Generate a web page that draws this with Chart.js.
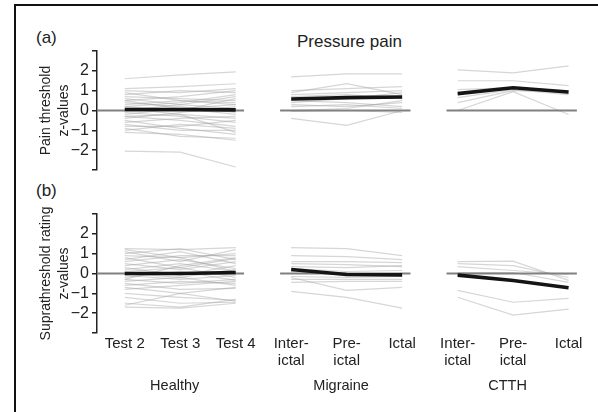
<!DOCTYPE html>
<html>
<head>
<meta charset="utf-8">
<script src="https://cdn.jsdelivr.net/npm/chart.js@4/dist/chart.umd.min.js"></script>
<style>
    body { margin: 0; background: #fff; }
    #wrap { position: relative; width: 598px; height: 412px; overflow: hidden; font-family: "Liberation Sans", Arial, sans-serif; color: #222; }
    #frame { position: absolute; left: 14px; top: 4px; width: 600px; height: 420px; border: 2px solid #111; }
    .lbl { position: absolute; font-size: 17px; line-height: 1; white-space: nowrap; }
    canvas { position: absolute; left: 0; }
</style>
</head>
<body>
<div id="wrap">
    <div id="frame"></div>
    <div class="lbl" style="left:36px; top:29px;">(a)</div>
    <div class="lbl" style="left:36px; top:182px;">(b)</div>
    <div class="lbl" style="left:297px; top:33px;">Pressure pain</div>
    <canvas id="topChart" width="598" height="190" style="top:0;"></canvas>
    <canvas id="bottomChart" width="598" height="217" style="top:195px;"></canvas>
</div>
<script>
// Groups and time points
const groups = ['Healthy', 'Migraine', 'CTTH'];
const timeLabels = [
    'Test 2', 'Test 3', 'Test 4',
    ['Inter-', 'ictal'], ['Pre-', 'ictal'], 'Ictal',
    ['Inter-', 'ictal'], ['Pre-', 'ictal'], 'Ictal'
];
const yTickValues = [-3, -2, -1, 0, 1, 2, 3];

// (a) Pain threshold z-values, one row per subject
const healthyThreshold = [
    [1.6, 1.8, 1.95], [-2.05, -2.1, -2.85], [1.1, 1.2, 1.35], [1.0, 0.9, 1.1],
    [0.9, 0.5, 0.3], [0.8, 1.0, 0.9], [0.6, 0.3, 0.7], [0.5, 0.7, 1.0],
    [0.4, 0.2, -0.1], [0.3, 0.5, 0.4], [0.2, 0.0, 0.6], [0.1, -0.2, -0.4],
    [0.0, 0.3, 0.1], [-0.1, -0.3, -0.6], [-0.2, 0.1, 0.3], [-0.3, -0.5, -0.8],
    [-0.4, -0.1, 0.2], [-0.5, -0.9, -1.2], [-0.6, -0.4, -0.3], [-0.7, -1.0, -1.0],
    [-0.8, -0.8, -0.5], [-0.9, -1.3, -1.4], [-1.0, -0.7, -0.9], [-1.1, -1.2, -1.5],
    [0.7, 0.6, 0.5], [-0.3, -0.2, -1.1], [0.2, 0.4, 0.8], [0.5, 0.1, -0.2]
];
const migraineThreshold = [
    [1.7, 1.85, 1.85], [0.9, 1.35, 0.8], [1.0, 1.1, 1.2], [0.8, 0.9, 1.0],
    [0.7, 0.8, 0.6], [0.4, 0.6, 0.9], [0.3, 0.2, 0.4], [0.2, 0.3, 0.1],
    [0.0, 0.1, 0.5], [-0.4, -0.75, 0.0], [0.5, 0.4, 0.2], [-0.05, 0.0, -0.1]
];
const ctthThreshold = [
    [2.05, 1.9, 2.25], [1.5, 1.5, 1.25], [1.05, 1.15, 0.85],
    [0.4, 1.0, 0.95], [0.65, 1.05, 0.8], [0.0, 0.95, -0.2]
];
const healthyThresholdMean = [0.05, 0.05, 0.03];
const migraineThresholdMean = [0.58, 0.65, 0.68];
const ctthThresholdMean = [0.85, 1.15, 0.93];

// (b) Suprathreshold rating z-values
const healthyRating = [
    [1.25, 1.2, 1.3], [1.1, 0.6, 1.2], [1.0, 1.25, 0.7], [0.9, 0.8, 1.0],
    [0.8, 0.3, 0.75], [0.7, 1.1, 0.5], [0.6, 0.9, 0.9], [0.5, 0.2, 0.6],
    [0.4, 0.7, 0.25], [0.3, -0.1, 0.4], [0.2, 0.5, 0.1], [0.1, 0.3, -0.2],
    [-0.1, -0.3, -0.1], [-0.2, 0.1, -0.35], [-0.3, -0.5, -0.3], [-0.4, -0.2, -0.6],
    [-0.5, -0.8, -0.75], [-0.6, -0.4, -0.5], [-0.7, -1.0, -0.7], [-0.8, -0.6, -0.4],
    [-1.0, -1.2, -1.35], [-1.2, -1.5, -1.45], [-1.5, -1.7, -1.3], [-1.7, -1.75, -1.5],
    [-1.6, -1.0, -1.4], [0.0, -0.2, 0.2], [1.2, 0.8, 0.1], [-0.3, 0.4, 0.8]
];
const migraineRating = [
    [1.3, 1.25, 0.9], [0.9, 0.85, 0.7], [0.6, 0.6, 0.55], [0.5, 0.45, 0.35],
    [0.35, 0.3, 0.4], [0.25, 0.1, 0.15], [0.1, -0.05, -0.1], [-0.15, -0.2, -0.15],
    [-0.3, -0.3, -0.3], [-0.2, -0.85, -0.7], [-0.45, -0.4, -0.4], [-0.9, -1.2, -1.75]
];
const ctthRating = [
    [0.6, 0.62, -0.35], [0.5, 0.4, -0.2], [0.35, 0.15, -0.05],
    [0.05, 0.05, -0.45], [-0.85, -1.45, -1.25], [-1.2, -2.1, -1.8]
];
const healthyRatingMean = [0.0, 0.0, 0.05];
const migraineRatingMean = [0.2, -0.05, -0.07];
const ctthRatingMean = [-0.08, -0.35, -0.72];

const fontFamily = '"Liberation Sans", Arial, sans-serif';
const textColor = '#222';
const xMin = -0.5;
const xMax = 8.35;

// one dataset per subject line, plus the zero line and the group mean per group
function buildDatasets(subjects, means) {
    const ds = [];
    groups.forEach((g, gi) => {
        ds.push({
            data: means[gi].map((y, i) => ({ x: gi * 3 + i, y: y })),
            borderColor: '#141414', borderWidth: 3.6, order: 0
        });
        const start = gi === 0 ? xMin : gi * 3 - 0.2;
        ds.push({
            data: [{ x: start, y: 0 }, { x: gi * 3 + 2.15, y: 0 }],
            borderColor: '#808080', borderWidth: 1.8, order: 1
        });
        subjects[gi].forEach(row => {
            ds.push({
                data: row.map((y, i) => ({ x: gi * 3 + i, y: y })),
                borderColor: 'rgba(165,165,165,0.45)', borderWidth: 1.2, order: 2
            });
        });
    });
    return ds;
}

function panelOptions(yTitle, showX) {
    return {
        responsive: false,
        animation: false,
        devicePixelRatio: 1,
        layout: { padding: { left: 0, right: 10, top: showX ? 19 : 51, bottom: showX ? 9 : 20 } },
        elements: { point: { radius: 0 }, line: { tension: 0, fill: false } },
        plugins: { legend: { display: false }, tooltip: { enabled: false } },
        scales: {
            x: {
                type: 'linear', min: xMin, max: xMax, display: showX,
                grid: { display: false, drawTicks: false }, border: { display: false },
                afterBuildTicks: s => { s.ticks = timeLabels.map((t, i) => ({ value: i })); },
                ticks: {
                    callback: v => timeLabels[v],
                    font: { size: 15, family: fontFamily, lineHeight: 1.1 },
                    color: textColor, padding: 3, maxRotation: 0, autoSkip: false
                },
                afterFit: s => { s.height = showX ? 40 : 0; }
            },
            x2: {
                type: 'linear', position: 'bottom', min: xMin, max: xMax, display: showX,
                grid: { display: false, drawTicks: false }, border: { display: false },
                afterBuildTicks: s => { s.ticks = groups.map((g, gi) => ({ value: gi * 3 + 0.9 })); },
                ticks: {
                    callback: v => groups[Math.round((v - 0.9) / 3)],
                    font: { size: 14.5, family: fontFamily },
                    color: textColor, padding: 4, maxRotation: 0, autoSkip: false
                },
                afterFit: s => { s.height = showX ? 30 : 0; }
            },
            y: {
                min: -3, max: 3,
                afterBuildTicks: s => { s.ticks = yTickValues.map(v => ({ value: v })); },
                ticks: {
                    callback: v => Math.abs(v) === 3 ? '' : (v < 0 ? '\u2212' + Math.abs(v) : String(v)),
                    font: { size: 16, family: fontFamily },
                    color: textColor, padding: 3, autoSkip: false
                },
                grid: { drawOnChartArea: false, drawTicks: true, tickLength: 5, color: textColor, lineWidth: 1.5 },
                border: { display: true, color: textColor, width: 1.5 },
                title: {
                    display: true, text: yTitle, color: textColor,
                    font: { size: 14, family: fontFamily, lineHeight: 1.28 },
                    padding: { top: 37, bottom: 0 }
                },
                afterFit: s => { s.width = 97; }
            }
        }
    };
}

new Chart(document.getElementById('topChart'), {
    type: 'line',
    data: {
        datasets: buildDatasets(
            [healthyThreshold, migraineThreshold, ctthThreshold],
            [healthyThresholdMean, migraineThresholdMean, ctthThresholdMean]
        )
    },
    options: panelOptions(['Pain threshold', 'z-values'], false)
});

new Chart(document.getElementById('bottomChart'), {
    type: 'line',
    data: {
        datasets: buildDatasets(
            [healthyRating, migraineRating, ctthRating],
            [healthyRatingMean, migraineRatingMean, ctthRatingMean]
        )
    },
    options: panelOptions(['Suprathreshold rating', 'z-values'], true)
});
</script>
</body>
</html>
